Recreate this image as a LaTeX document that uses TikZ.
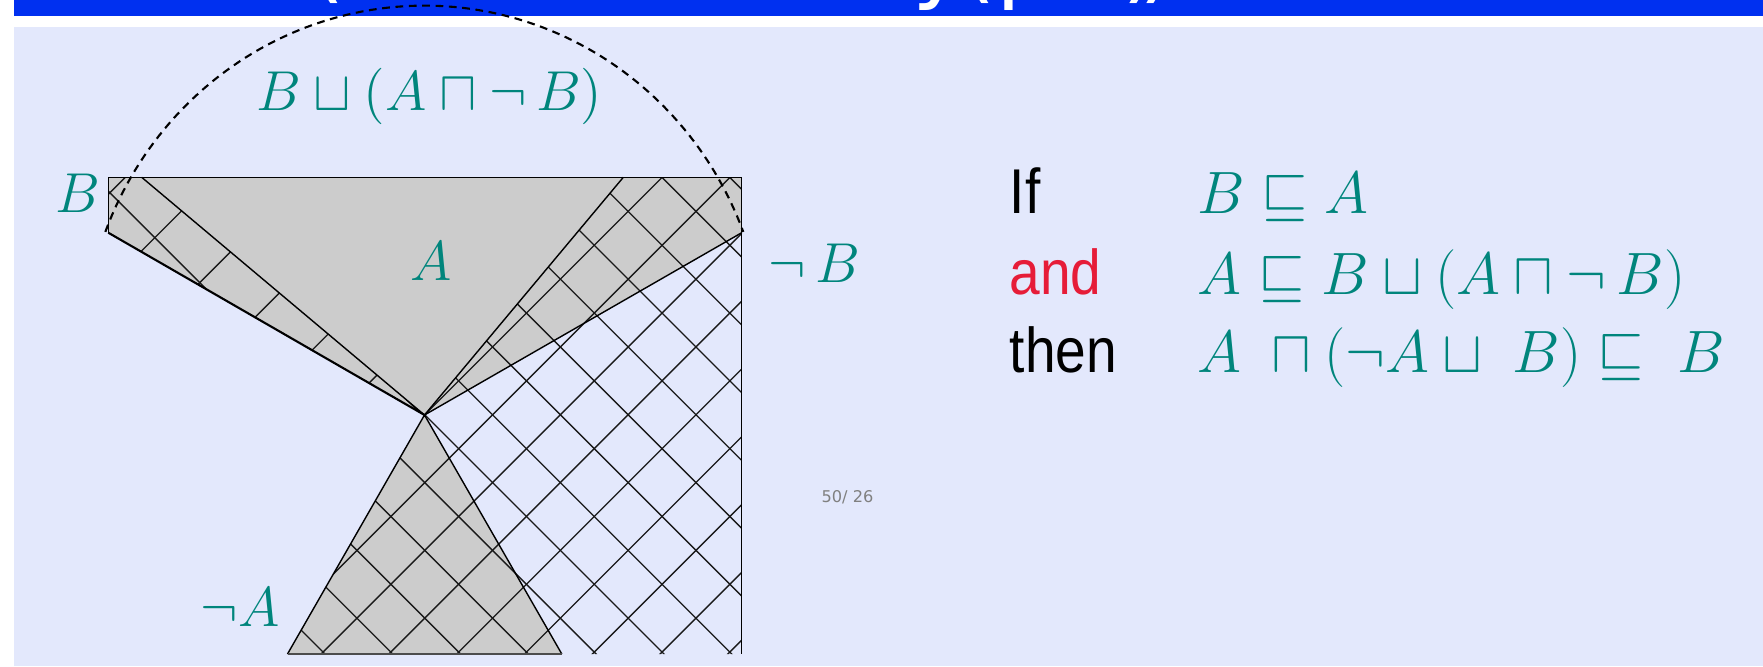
\RequirePackage{fix-cm}
\documentclass[tikz,border=0pt]{standalone}
\usepackage{graphicx}
\usepackage{fontspec}
\newfontfamily\labelsans{Liberation Sans}
\newfontfamily\dvsans{DejaVu Sans}
\definecolor{bgblue}{RGB}{227,232,252}
\definecolor{barblue}{RGB}{0,48,240}
\definecolor{tealc}{RGB}{0,133,124}
\definecolor{redc}{RGB}{230,28,56}
\definecolor{grayfill}{RGB}{204,204,204}
\definecolor{pagegray}{RGB}{128,128,128}
\begin{document}
\begin{tikzpicture}[x=0.01cm,y=-0.01cm,
  outline/.style={line width=0.4pt, black},
  hatchline/.style={line width=0.38pt, black!90},
  mathlbl/.style={text=tealc, inner sep=0pt, anchor=base, font=\fontsize{16}{19}\selectfont},
  rowmath/.style={text=tealc, inner sep=0pt, anchor=base west, font=\fontsize{17}{20}\selectfont},
  rowword/.style={inner sep=0pt, anchor=base west, font=\labelsans\fontsize{18}{21}\selectfont},
  titleglyph/.style={text=white, inner sep=0pt, anchor=base, font=\dvsans\fontsize{26}{30}\selectfont}
]
\useasboundingbox (0,0) rectangle (1763,666);
\fill[white] (0,0) rectangle (1763,666);
\fill[barblue] (13.5,0) rectangle (1763,16);
\fill[bgblue] (13.5,27) rectangle (1763,666);

\begin{scope}
\clip (13.5,0) rectangle (1763,16);
\node[titleglyph] (t1) at (327,-9) {(};
\node[titleglyph] (t2) at (940,-9) {y};
\node[titleglyph, anchor=base west] (t3) at (960,-9) {(p};
\node[titleglyph] (t4) at (1140,-9) {)};
\node[titleglyph] (t5) at (1157,-9) {)};
\end{scope}

\coordinate (TL) at (108.3,177.3);
\coordinate (TR) at (741.7,177.3);
\coordinate (RP) at (741.7,232.7);
\coordinate (LP) at (108.3,232.7);
\coordinate (AP) at (424.5,415);
\coordinate (BT) at (141.7,177.3);
\coordinate (NBT) at (623.3,177.3);
\coordinate (NAL) at (287.5,654);
\coordinate (NAR) at (561.8,654);
\coordinate (BR) at (741.7,654);

\fill[grayfill] (TL) -- (TR) -- (RP) -- (AP) -- (LP) -- cycle;
\fill[grayfill] (AP) -- (NAL) -- (NAR) -- cycle;

\begin{scope}
\clip (TL) -- (BT) -- (AP) -- (LP) -- cycle;
\foreach \k in {-1,...,7} \draw[hatchline] ({842-89.9*\k},0) -- ({842-89.9*\k-700},700);
\foreach \m in {-1,0,1} \draw[hatchline] (0,{82.9+90*\m}) -- (800,{882.9+90*\m});
\end{scope}

\begin{scope}
\clip (AP) -- (NBT) -- (TR) -- (BR) -- (NAL) -- cycle;
\foreach \k in {-2,...,10} \draw[hatchline] ({839.5+67.8*\k},0) -- ({839.5+67.8*\k-800},800);
\foreach \m in {-10,...,7} \draw[hatchline] (0,{-10+67.8*\m}) -- (900,{890+67.8*\m});
\end{scope}

\draw[outline] (LP) -- (TL) -- (TR) -- (BR);
\draw[outline, line width=0.6pt] (LP) -- (AP);
\draw[outline] (AP) -- (RP);
\draw[outline] (AP) -- (BT);
\draw[outline] (AP) -- (NBT);
\draw[outline] (NAL) -- (AP) -- (NAR);
\draw[line width=0.5pt, black!70] (NAL) -- (NAR);

\node[mathlbl] (lblB) at (78,212.7) {$B$};
\node[mathlbl] (lblA) at (430.8,280) {$A$};
\node[mathlbl] (lblnB) at (814,282.7) {$\neg\,B$};
\node[mathlbl] (lblnA) at (240,626.7) {$\neg A$};
\node[mathlbl] (lbltop) at (429.4,110) {$B\sqcup(A\sqcap\neg\,B)$};

\node[text=pagegray, inner sep=0pt, font=\dvsans\fontsize{4.6}{5}\selectfont] (pg) at (847.5,497.2) {50/ 26};

\node[rowword] (wIf) at (1009,213.3) {\scalebox{0.87}[1]{If}};
\node[rowword, text=redc] (wand) at (1009,294) {\scalebox{0.87}[1]{and}};
\node[rowword] (wthen) at (1009,372.7) {\scalebox{0.87}[1]{then}};
\node[rowmath] (m1) at (1197,213.3) {$B\sqsubseteq A$};
\node[rowmath] (m2) at (1197,294) {$A\sqsubseteq B\sqcup(A\sqcap\neg\,B)$};
\node[rowmath] (m3) at (1197,372.7) {$A\;\sqcap(\neg A\sqcup\;B)\sqsubseteq\;B$};

\draw[line width=0.6pt, dash pattern=on 2.2pt off 1.6pt] plot[domain=200.7:339.3, samples=100] ({424.3+341*cos(\x)},{355.6+350*sin(\x)});
\end{tikzpicture}
\end{document}
